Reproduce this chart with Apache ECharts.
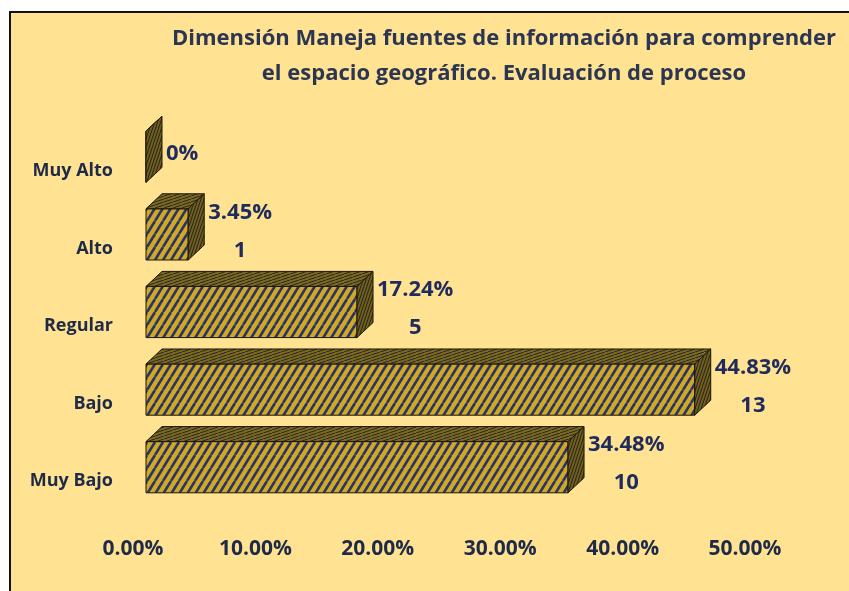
<!DOCTYPE html>
<html lang="es">
<head>
    <meta charset="UTF-8">
    <title>Dimensión Maneja fuentes de información</title>
    <script src="https://cdn.jsdelivr.net/npm/echarts@6/dist/echarts.min.js"></script>
    <style>
        body { margin: 0; background: #fff; }
        #frame { position: absolute; left: 9px; top: 11px; width: 840px; height: 580px;
                 border-left: 2px solid #111; border-top: 2px solid #111; background: #FFE392; }
        #main { width: 838px; height: 578px; }
    </style>
</head>
<body>
<div id="frame"><div id="main"></div></div>
<script>
    var categories = ['Muy Bajo', 'Bajo', 'Regular', 'Alto', 'Muy Alto'];
    var percents = [34.48, 44.83, 17.24, 3.45, 0];
    var counts = [10, 13, 5, 1, 0];
    var xTicks = [0, 10, 20, 30, 40, 50];

    var FONT = '"Open Sans", Lato, sans-serif';

    // trama de rayas diagonales
    function stripes(bg, line, w, h, lw) {
        var c = document.createElement('canvas');
        c.width = w; c.height = h;
        var ctx = c.getContext('2d');
        ctx.fillStyle = bg;
        ctx.fillRect(0, 0, w, h);
        ctx.strokeStyle = line;
        ctx.lineWidth = lw;
        for (var k = -1; k <= 1; k++) {
            ctx.beginPath();
            ctx.moveTo(k * w, h);
            ctx.lineTo(k * w + w, 0);
            ctx.stroke();
        }
        return c;
    }
    var frontPat = { image: stripes('#CFA824', '#2A326A', 8, 13, 2.6), repeat: 'repeat' };
    var topPat = { image: stripes('#7A6828', '#2E2A12', 9, 3, 1), repeat: 'repeat' };
    var sidePat = { image: stripes('#6E5E24', '#2A2610', 3, 9, 1), repeat: 'repeat' };

    var measure = document.createElement('canvas').getContext('2d');
    measure.font = 'bold 22px ' + FONT;

    var chartData = percents.map(function (p, i) { return [p, i, counts[i]]; });

    var myChart = echarts.init(document.getElementById('main'));
    var option = {
        animation: false,
        title: {
            text: 'Dimensión Maneja fuentes de información para comprender\nel espacio geográfico. Evaluación de proceso',
            left: 488,
            top: 3,
            textAlign: 'center',
            textStyle: {
                fontFamily: FONT,
                fontWeight: 'bold',
                fontSize: 22,
                lineHeight: 35,
                color: '#2C3552'
            }
        },
        grid: { left: 135, right: 91, top: 105, bottom: 85 },
        xAxis: {
            type: 'value',
            min: 0,
            max: 50,
            interval: 10,
            axisLine: { show: false },
            axisTick: { show: false },
            splitLine: { show: false },
            axisLabel: {
                margin: 33,
                padding: [0, 26, 0, 0],
                fontFamily: FONT,
                fontWeight: 'bold',
                fontSize: 21,
                color: '#1F2A48',
                customValues: xTicks,
                formatter: function (v) { return v.toFixed(2) + '%'; }
            }
        },
        yAxis: {
            type: 'category',
            data: categories,
            axisLine: { show: false },
            axisTick: { show: false },
            axisLabel: {
                margin: 33,
                verticalAlign: 'top',
                padding: [5, 0, 0, 0],
                fontFamily: FONT,
                fontWeight: 'bold',
                fontSize: 18,
                color: '#1F2A48'
            }
        },
        series: [{
            type: 'custom',
            data: chartData,
            encode: { x: 0, y: 1 },
            renderItem: function (params, api) {
                var i = api.value(1);
                var p = api.value(0);
                var n = api.value(2);
                var s = api.coord([0, i]);
                var e = api.coord([p, i]);
                var h = api.size([0, 1])[1] * 0.66;
                var dx = 16, dy = 15;
                var x0 = s[0], x1 = e[0];
                var yt = e[1] - h / 2, yb = e[1] + h / 2;
                var pctText = (p === 0 ? '0' : p.toFixed(2)) + '%';
                var txt = n === 0 ? pctText : pctText + '\n' + n;
                var w = measure.measureText(pctText).width;
                var stroke = { stroke: '#1A1608', lineWidth: 1 };
                return {
                    type: 'group',
                    children: [
                        {
                            type: 'rect',
                            shape: { x: x0, y: yt, width: x1 - x0, height: h },
                            style: Object.assign({ fill: frontPat }, stroke)
                        },
                        {
                            type: 'polygon',
                            shape: { points: [[x0, yt], [x1, yt], [x1 + dx, yt - dy], [x0 + dx, yt - dy]] },
                            style: Object.assign({ fill: topPat }, stroke)
                        },
                        {
                            type: 'polygon',
                            shape: { points: [[x1, yt], [x1 + dx, yt - dy], [x1 + dx, yb - dy], [x1, yb]] },
                            style: Object.assign({ fill: sidePat }, stroke)
                        },
                        {
                            type: 'text',
                            style: {
                                text: txt,
                                x: x1 + dx + 4 + w / 2,
                                y: e[1] - 3,
                                align: 'center',
                                verticalAlign: 'middle',
                                fontFamily: FONT,
                                fontWeight: 'bold',
                                fontSize: 22,
                                lineHeight: 38,
                                fill: '#1F2B5C'
                            }
                        }
                    ]
                };
            }
        }]
    };
    myChart.setOption(option);
</script>
</body>
</html>
